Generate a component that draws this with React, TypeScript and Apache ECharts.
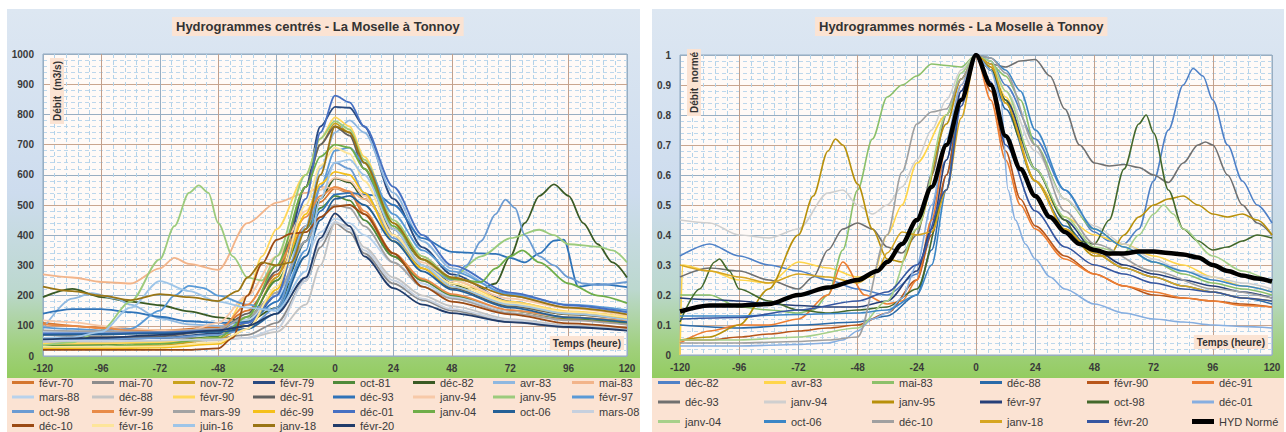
import React, { useEffect, useRef } from "react";
import * as echarts from "echarts";

// ---------- axis settings ----------
const HOUR_MIN = -120;
const HOUR_MAX = 120;
const HOUR_STEP = 24;
const Q_MAX = 1000;
const Q_STEP = 100;
const N_MAX = 1;
const N_STEP = 0.1;

const TITLE_LEFT = "Hydrogrammes centrés - La Moselle à Tonnoy";
const TITLE_RIGHT = "Hydrogrammes normés - La Moselle à Tonnoy";
const YNAME_LEFT = "Débit  (m3/s)";
const YNAME_RIGHT = "Débit  normé";
const XNAME = "Temps (heure)";

// ---------- left chart: centred hydrographs (hour, m3/s) ----------
const L_FEVR70 = [[-120,110],[-96,95],[-72,85],[-48,95],[-36,150],[-24,270],[-12,430],[-6,510],[0,555],[6,540],[12,470],[24,330],[36,250],[48,200],[72,150],[96,122],[120,105]];
const L_MAI70 = [[-120,70],[-96,65],[-72,60],[-48,60],[-36,70],[-24,110],[-12,250],[-6,360],[0,440],[6,410],[12,340],[24,240],[36,185],[48,150],[72,112],[96,95],[120,86]];
const L_NOV72 = [[-120,30],[-96,30],[-72,35],[-48,55],[-36,110],[-24,260],[-12,560],[-6,700],[0,770],[6,740],[12,640],[24,420],[36,300],[48,230],[72,165],[96,138],[120,122]];
const L_FEVR79 = [[-120,50],[-96,52],[-72,60],[-48,75],[-36,100],[-24,200],[-12,560],[-6,760],[0,825],[6,822],[12,760],[24,520],[36,360],[48,270],[72,180],[96,145],[120,125]];
const L_OCT81 = [[-120,35],[-96,38],[-72,45],[-48,65],[-36,120],[-24,250],[-12,420],[-6,490],[0,530],[6,515],[12,450],[24,330],[36,250],[48,200],[72,150],[96,125],[120,110]];
const L_DEC82 = [[-120,195],[-108,222],[-96,195],[-84,180],[-72,168],[-60,148],[-48,128],[-36,115],[-24,160],[-12,380],[-6,520],[0,588],[6,575],[12,520],[24,420],[36,320],[48,240],[54,225],[60,222],[66,240],[72,330],[78,440],[84,530],[90,568],[96,530],[102,440],[108,370],[114,310],[120,260]];
const L_AVR83 = [[-120,90],[-108,190],[-100,208],[-90,190],[-84,170],[-72,125],[-60,105],[-48,100],[-36,110],[-24,180],[-12,430],[-6,620],[0,740],[6,780],[12,740],[24,540],[36,380],[48,290],[72,200],[96,160],[120,145]];
const L_MAI83 = [[-120,270],[-108,260],[-96,245],[-84,240],[-72,290],[-66,325],[-60,305],[-48,285],[-36,440],[-24,508],[-12,540],[-6,560],[0,555],[6,545],[12,520],[24,420],[36,330],[48,260],[72,200],[96,160],[120,135]];
const L_MARS88 = [[-120,80],[-96,78],[-72,80],[-48,90],[-36,120],[-24,200],[-12,330],[-6,410],[0,455],[6,440],[12,400],[24,310],[36,240],[48,195],[72,150],[96,128],[120,115]];
const L_DEC88 = [[-120,45],[-96,45],[-72,48],[-48,52],[-36,60],[-24,80],[-12,170],[-6,300],[0,440],[6,430],[12,360],[24,260],[36,200],[48,165],[72,122],[96,102],[120,90]];
const L_FEVR90 = [[-120,40],[-96,42],[-72,45],[-48,60],[-36,200],[-30,330],[-24,420],[-12,600],[-6,720],[0,790],[6,760],[12,660],[24,440],[36,320],[48,250],[72,180],[96,148],[120,130]];
const L_DEC91 = [[-120,60],[-96,62],[-72,65],[-48,85],[-36,140],[-24,280],[-12,560],[-6,700],[0,760],[6,730],[12,620],[24,400],[36,290],[48,225],[72,165],[96,138],[120,122]];
const L_DEC93 = [[-120,140],[-108,155],[-96,155],[-84,145],[-72,130],[-60,115],[-48,110],[-36,112],[-24,180],[-12,380],[-6,480],[0,535],[6,540],[12,535],[18,530],[24,500],[36,390],[48,345],[60,340],[66,338],[72,325],[78,310],[84,340],[90,382],[94,385],[100,230],[108,238],[120,228]];
const L_JANV94 = [[-120,118],[-108,112],[-96,100],[-84,90],[-72,85],[-60,85],[-48,110],[-36,200],[-24,330],[-12,480],[-6,550],[0,590],[6,580],[12,530],[24,400],[36,310],[48,250],[72,190],[96,158],[120,135]];
const L_JANV95 = [[-120,35],[-108,45],[-96,85],[-84,180],[-72,320],[-66,430],[-60,540],[-56,565],[-52,540],[-48,440],[-42,330],[-36,260],[-30,250],[-24,330],[-12,600],[-6,720],[0,778],[6,750],[12,650],[24,450],[36,330],[48,258],[60,330],[72,390],[84,418],[90,400],[96,370],[108,362],[114,350],[120,310]];
const L_FEVR97 = [[-120,95],[-108,90],[-96,85],[-84,90],[-72,150],[-66,200],[-60,232],[-54,225],[-48,200],[-36,170],[-24,150],[-12,350],[-6,560],[0,680],[6,690],[12,640],[24,470],[36,350],[48,280],[72,205],[96,170],[120,152]];
const L_OCT98 = [[-120,55],[-96,55],[-72,60],[-48,70],[-36,90],[-24,160],[-12,420],[-6,560],[0,640],[6,620],[12,540],[24,390],[36,300],[48,252],[54,300],[60,380],[66,470],[70,518],[74,490],[78,400],[84,330],[90,300],[96,260],[102,240],[108,235],[120,245]];
const L_FEVR99 = [[-120,105],[-108,100],[-96,92],[-84,85],[-72,80],[-48,85],[-36,170],[-24,300],[-12,460],[-6,530],[0,560],[6,545],[12,480],[24,340],[36,255],[48,205],[72,152],[96,128],[120,116]];
const L_MARS99 = [[-120,85],[-96,82],[-72,80],[-48,90],[-36,130],[-24,210],[-12,380],[-6,460],[0,500],[6,490],[12,430],[24,310],[36,230],[48,190],[72,142],[96,118],[120,104]];
const L_DEC99 = [[-120,25],[-96,25],[-72,28],[-48,40],[-36,90],[-24,220],[-12,470],[-6,570],[0,610],[6,600],[12,540],[24,380],[36,290],[48,230],[72,170],[96,140],[120,125]];
const L_DEC01 = [[-120,75],[-96,75],[-72,78],[-48,85],[-36,110],[-24,200],[-12,520],[-6,740],[0,862],[6,840],[12,760],[24,560],[36,400],[48,300],[72,210],[96,168],[120,145]];
const L_JANV04 = [[-120,30],[-96,32],[-72,40],[-48,60],[-36,130],[-24,300],[-12,560],[-6,660],[0,700],[6,690],[12,620],[24,430],[36,320],[48,255],[60,245],[66,290],[72,330],[77,350],[84,310],[96,240],[108,200],[120,175]];
const L_OCT06 = [[-120,70],[-96,72],[-72,75],[-48,80],[-36,90],[-24,140],[-12,330],[-6,450],[0,520],[6,530],[12,500],[24,380],[36,280],[48,220],[72,160],[96,128],[120,112]];
const L_MARS08 = [[-120,50],[-96,50],[-72,52],[-48,55],[-36,60],[-24,90],[-12,250],[-6,380],[0,445],[6,420],[12,350],[24,250],[36,190],[48,155],[72,118],[96,98],[120,86]];
const L_DEC10 = [[-120,20],[-96,20],[-72,20],[-60,20],[-48,25],[-42,60],[-36,200],[-30,305],[-24,385],[-18,405],[-12,410],[-6,460],[0,495],[6,500],[12,470],[24,340],[36,230],[48,180],[72,138],[96,108],[120,93]];
const L_FEVR16 = [[-120,30],[-96,30],[-72,32],[-48,45],[-36,90],[-24,230],[-12,500],[-6,630],[0,690],[6,670],[12,580],[24,400],[36,300],[48,240],[72,175],[96,145],[120,128]];
const L_JUIN16 = [[-120,60],[-108,62],[-96,80],[-84,160],[-72,248],[-60,215],[-48,180],[-36,160],[-24,150],[-12,280],[-6,520],[0,640],[6,650],[12,600],[24,420],[36,300],[48,230],[72,170],[96,140],[120,120]];
const L_JANV18 = [[-120,230],[-108,215],[-96,200],[-84,185],[-72,205],[-60,195],[-48,182],[-40,215],[-36,260],[-30,310],[-24,300],[-18,310],[-12,420],[-6,600],[0,760],[6,740],[12,640],[24,440],[36,320],[48,260],[72,200],[96,160],[120,138]];
const L_FEVR20 = [[-120,55],[-96,60],[-72,70],[-48,85],[-36,100],[-24,140],[-12,260],[-6,390],[0,472],[6,430],[12,330],[24,225],[36,170],[48,142],[72,112],[96,96],[120,84]];

const LEFT_NAMES = ["févr-70","mai-70","nov-72","févr-79","oct-81","déc-82","avr-83","mai-83","mars-88","déc-88","févr-90","déc-91","déc-93","janv-94","janv-95","févr-97","oct-98","févr-99","mars-99","déc-99","déc-01","janv-04","oct-06","mars-08","déc-10","févr-16","juin-16","janv-18","févr-20"];
const LEFT_DATA = [L_FEVR70,L_MAI70,L_NOV72,L_FEVR79,L_OCT81,L_DEC82,L_AVR83,L_MAI83,L_MARS88,L_DEC88,L_FEVR90,L_DEC91,L_DEC93,L_JANV94,L_JANV95,L_FEVR97,L_OCT98,L_FEVR99,L_MARS99,L_DEC99,L_DEC01,L_JANV04,L_OCT06,L_MARS08,L_DEC10,L_FEVR16,L_JUIN16,L_JANV18,L_FEVR20];
const LEFT_COLORS = ["#d4762f","#8c8c8c","#c8a21d","#2a4a80","#4f8a3a","#3a5a24","#8fb8e0","#f2b48a","#b8d2ec","#c4c4c4","#ffd75a","#606060","#2f73b8","#f7c9a8","#9ccb7c","#5a9ad6","#6b9bd2","#e88b48","#a3a3a3","#f5c01a","#4670c2","#6fad48","#246096","#c6d0de","#9b4a14","#fde59a","#9ec5e8","#9a7514","#213c6a"];

// ---------- right chart: normalised hydrographs ----------
const R_DEC82 = [[-120,0.33],[-108,0.37],[-96,0.33],[-84,0.3],[-72,0.28],[-60,0.25],[-48,0.22],[-36,0.2],[-24,0.27],[-12,0.65],[-6,0.88],[0,1],[6,0.98],[12,0.9],[24,0.72],[36,0.55],[48,0.41],[54,0.38],[60,0.37],[66,0.42],[72,0.58],[78,0.75],[84,0.9],[88,0.955],[92,0.93],[96,0.85],[102,0.7],[108,0.58],[114,0.5],[120,0.44]];
const R_AVR83 = [[-120,0],[-119,0.3],[-108,0.28],[-96,0.25],[-84,0.24],[-72,0.31],[-60,0.29],[-48,0.26],[-42,0.26],[-36,0.4],[-30,0.5],[-24,0.64],[-12,0.8],[-6,0.92],[0,1],[6,0.96],[12,0.86],[24,0.58],[36,0.46],[48,0.4],[60,0.37],[72,0.33],[84,0.3],[96,0.26],[108,0.23],[120,0.21]];
const R_MAI83 = [[-120,0.2],[-108,0.2],[-96,0.16],[-84,0.15],[-72,0.14],[-66,0.15],[-60,0.2],[-54,0.35],[-48,0.55],[-42,0.72],[-36,0.86],[-30,0.9],[-24,0.93],[-18,0.97],[-12,0.965],[-6,0.96],[0,1],[6,0.97],[12,0.93],[18,0.85],[24,0.7],[36,0.52],[48,0.42],[60,0.36],[72,0.31],[84,0.27],[96,0.24],[108,0.22],[120,0.2]];
const R_DEC88 = [[-120,0.1],[-96,0.09],[-72,0.1],[-48,0.11],[-36,0.13],[-24,0.2],[-18,0.35],[-12,0.6],[-6,0.85],[0,1],[6,0.95],[12,0.82],[24,0.58],[36,0.43],[48,0.34],[60,0.29],[72,0.26],[84,0.23],[96,0.21],[108,0.19],[120,0.17]];
const R_FEVR90 = [[-120,0.05],[-108,0.05],[-96,0.06],[-84,0.07],[-72,0.08],[-60,0.09],[-48,0.1],[-36,0.14],[-24,0.25],[-18,0.4],[-12,0.6],[-6,0.85],[0,1],[6,0.88],[12,0.68],[18,0.52],[24,0.43],[36,0.33],[48,0.27],[60,0.23],[72,0.2],[84,0.19],[96,0.18],[108,0.17],[120,0.16]];
const R_DEC91 = [[-120,0.04],[-108,0.08],[-96,0.1],[-84,0.1],[-72,0.12],[-60,0.2],[-54,0.31],[-45,0.2],[-36,0.17],[-30,0.18],[-24,0.25],[-18,0.45],[-12,0.7],[-6,0.9],[0,1],[6,0.85],[12,0.65],[18,0.5],[24,0.42],[36,0.32],[48,0.27],[60,0.23],[72,0.21],[84,0.19],[96,0.18],[108,0.165],[120,0.16]];
const R_DEC93 = [[-120,0.26],[-108,0.29],[-96,0.28],[-84,0.25],[-72,0.22],[-66,0.26],[-60,0.35],[-54,0.42],[-48,0.44],[-42,0.42],[-36,0.36],[-30,0.34],[-24,0.4],[-18,0.6],[-12,0.8],[-6,0.92],[0,1],[6,0.97],[12,0.96],[18,0.98],[24,0.985],[30,0.93],[36,0.82],[42,0.7],[48,0.64],[54,0.63],[60,0.635],[66,0.625],[72,0.6],[78,0.575],[84,0.64],[90,0.7],[93,0.71],[96,0.7],[102,0.6],[108,0.5],[114,0.44],[120,0.4]];
const R_JANV94 = [[-120,0.45],[-108,0.44],[-96,0.4],[-84,0.39],[-72,0.42],[-60,0.54],[-54,0.55],[-48,0.5],[-42,0.47],[-36,0.5],[-30,0.56],[-24,0.65],[-18,0.75],[-12,0.85],[-6,0.95],[0,1],[6,0.96],[12,0.88],[24,0.68],[36,0.52],[48,0.43],[60,0.37],[72,0.32],[84,0.28],[96,0.26],[108,0.24],[120,0.22]];
const R_JANV95 = [[-120,0.05],[-108,0.06],[-96,0.1],[-84,0.22],[-72,0.4],[-66,0.53],[-60,0.68],[-57,0.72],[-54,0.7],[-48,0.57],[-42,0.42],[-36,0.32],[-30,0.31],[-24,0.42],[-12,0.77],[-6,0.92],[0,1],[6,0.96],[12,0.84],[24,0.58],[36,0.42],[48,0.33],[54,0.33],[60,0.4],[66,0.46],[72,0.5],[78,0.52],[84,0.53],[90,0.5],[96,0.47],[102,0.46],[108,0.47],[114,0.45],[120,0.4]];
const R_FEVR97 = [[-120,0.19],[-108,0.185],[-96,0.18],[-84,0.17],[-72,0.165],[-60,0.16],[-48,0.16],[-36,0.18],[-24,0.28],[-18,0.42],[-12,0.65],[-6,0.88],[0,1],[6,0.95],[12,0.85],[24,0.62],[36,0.45],[48,0.35],[60,0.3],[72,0.27],[84,0.25],[96,0.23],[108,0.21],[120,0.19]];
const R_OCT98 = [[-120,0.11],[-112,0.22],[-106,0.31],[-104,0.32],[-100,0.28],[-96,0.22],[-84,0.18],[-72,0.15],[-60,0.14],[-48,0.15],[-36,0.16],[-24,0.22],[-12,0.55],[-6,0.85],[0,1],[6,0.95],[12,0.85],[18,0.72],[24,0.62],[36,0.45],[42,0.38],[48,0.37],[54,0.45],[60,0.62],[66,0.77],[69,0.8],[72,0.74],[78,0.55],[84,0.42],[90,0.38],[96,0.35],[102,0.36],[108,0.38],[114,0.4],[120,0.39]];
const R_DEC01 = [[-120,0.03],[-96,0.03],[-72,0.035],[-60,0.04],[-54,0.05],[-48,0.08],[-42,0.12],[-36,0.14],[-30,0.19],[-24,0.3],[-18,0.5],[-12,0.72],[-6,0.9],[0,1],[6,0.95],[10,0.85],[13,0.55],[16,0.45],[20,0.37],[24,0.32],[30,0.26],[36,0.22],[48,0.17],[60,0.14],[72,0.12],[84,0.11],[96,0.1],[108,0.095],[120,0.09]];
const R_JANV04 = [[-120,0.05],[-96,0.05],[-72,0.06],[-48,0.09],[-36,0.18],[-24,0.42],[-12,0.8],[-6,0.94],[0,1],[6,0.98],[12,0.88],[24,0.62],[36,0.46],[48,0.36],[60,0.34],[66,0.4],[72,0.47],[76,0.5],[80,0.47],[84,0.42],[96,0.33],[108,0.28],[120,0.24]];
const R_OCT06 = [[-120,0.13],[-96,0.13],[-72,0.135],[-48,0.14],[-36,0.15],[-24,0.2],[-18,0.3],[-12,0.55],[-6,0.85],[0,1],[6,0.99],[12,0.95],[18,0.88],[24,0.75],[36,0.55],[48,0.42],[60,0.36],[72,0.31],[84,0.28],[96,0.25],[108,0.23],[120,0.21]];
const R_DEC10 = [[-120,0.04],[-96,0.04],[-72,0.045],[-60,0.05],[-48,0.06],[-36,0.4],[-30,0.61],[-24,0.77],[-18,0.81],[-12,0.82],[-6,0.92],[0,1],[6,0.99],[12,0.94],[24,0.7],[36,0.48],[48,0.37],[72,0.28],[96,0.22],[120,0.19]];
const R_JANV18 = [[-120,0.3],[-108,0.28],[-96,0.26],[-84,0.24],[-72,0.27],[-60,0.26],[-48,0.24],[-40,0.28],[-36,0.34],[-30,0.41],[-24,0.4],[-18,0.41],[-12,0.55],[-6,0.79],[0,1],[6,0.97],[12,0.84],[24,0.58],[36,0.42],[48,0.34],[60,0.29],[72,0.26],[84,0.23],[96,0.21],[108,0.19],[120,0.18]];
const R_FEVR20 = [[-120,0.12],[-96,0.125],[-72,0.15],[-48,0.18],[-36,0.21],[-24,0.3],[-12,0.55],[-6,0.83],[0,1],[6,0.91],[12,0.7],[24,0.48],[36,0.36],[48,0.3],[60,0.27],[72,0.24],[84,0.22],[96,0.21],[108,0.19],[120,0.18]];
const R_HYD = [[-120,0.145],[-108,0.165],[-96,0.165],[-84,0.17],[-72,0.2],[-60,0.225],[-48,0.25],[-40,0.28],[-36,0.31],[-30,0.37],[-24,0.45],[-18,0.56],[-12,0.7],[-6,0.85],[0,1],[6,0.9],[12,0.73],[18,0.62],[24,0.53],[30,0.46],[36,0.41],[42,0.37],[48,0.35],[54,0.338],[60,0.338],[66,0.345],[72,0.345],[78,0.34],[84,0.335],[90,0.325],[96,0.3],[102,0.28],[108,0.265],[114,0.255],[120,0.245]];

const RIGHT_NAMES = ["déc-82","avr-83","mai-83","déc-88","févr-90","déc-91","déc-93","janv-94","janv-95","févr-97","oct-98","déc-01","janv-04","oct-06","déc-10","janv-18","févr-20","HYD Normé"];
const RIGHT_DATA = [R_DEC82,R_AVR83,R_MAI83,R_DEC88,R_FEVR90,R_DEC91,R_DEC93,R_JANV94,R_JANV95,R_FEVR97,R_OCT98,R_DEC01,R_JANV04,R_OCT06,R_DEC10,R_JANV18,R_FEVR20,R_HYD];
const RIGHT_COLORS = ["#4f81c7","#ffd54a","#8cc06a","#2a6aa8","#b8561a","#ed7d31","#707070","#cfcfcf","#b8900a","#263f78","#43682b","#86aee0","#a6d08a","#3b86c6","#a0a0a0","#d6a520","#3656a0","#000000"];

// ---------- layout ----------
const W = 1286;
const H = 432;
const LEFT_GRID = { left: 43, top: 54, width: 584, height: 302 };
const RIGHT_GRID = { left: 680, top: 55, width: 592, height: 300 };
const LEFT_LEG_COLS = [12, 92, 173, 253, 333, 413, 493, 572];
const LEFT_LEG_ROWS = [384, 398.5, 413, 427];
const RIGHT_LEG_COLS = [658, 764, 872, 980, 1087, 1192];
const RIGHT_LEG_ROWS = [384, 403.5, 423];

const FONT = "Liberation Sans";
const PEACH = "#fbe3d3";
const SEP = "§"; // separates display name from chart id in internal series names

export default function App() {
  const ref = useRef<HTMLDivElement>(null);

  useEffect(() => {
    if (!ref.current) return;
    const chart = echarts.init(ref.current, undefined, { renderer: "svg" });

    const xAxisBase = (gridIndex: number) => ({
      type: "value",
      gridIndex,
      min: HOUR_MIN,
      max: HOUR_MAX,
      interval: HOUR_STEP,
      axisLine: { show: false },
      axisTick: { show: false },
      axisLabel: { fontSize: 10, fontWeight: "bold", color: "#3a3a3a", margin: 7, fontFamily: FONT },
      splitLine: { show: true, lineStyle: { color: ["#98aec2", "#c2a08c"], width: 1 } },
      minorTick: { show: false, splitNumber: 5 },
      minorSplitLine: { show: true, lineStyle: { color: "#b3d3ea", width: 1, type: [4, 3] } },
    });
    const yAxisBase = (gridIndex: number, max: number, step: number) => ({
      type: "value",
      gridIndex,
      min: 0,
      max,
      interval: step,
      axisLine: { show: false },
      axisTick: { show: false },
      axisLabel: {
        fontSize: 10, fontWeight: "bold", color: "#3a3a3a", margin: 9, fontFamily: FONT,
        formatter: (v: number) => String(Math.round(v * 10) / 10),
      },
      splitLine: { show: true, lineStyle: { color: ["#98aec2", "#c9a58e"], width: 1 } },
      minorTick: { show: false, splitNumber: 5 },
      minorSplitLine: { show: true, lineStyle: { color: "#bcd7ec", width: 1, type: [4, 3] } },
    });

    const mkSeries = (id: string, data: number[][], color: string, idx: number, width: number, z: number) => ({
      name: id,
      type: "line",
      xAxisIndex: idx,
      yAxisIndex: idx,
      data,
      showSymbol: false,
      symbol: "none",
      smooth: 0.3,
      smoothMonotone: "x",
      lineStyle: { color, width },
      itemStyle: { color },
      emphasis: { disabled: true },
      silent: true,
      z,
    });

    const series: any[] = [];
    LEFT_NAMES.forEach((n, i) => series.push(mkSeries(n + SEP + "L", LEFT_DATA[i], LEFT_COLORS[i], 0, 1.8, 2)));
    RIGHT_NAMES.forEach((n, i) => {
      const hyd = n === "HYD Normé";
      series.push(mkSeries(n + SEP + "R", RIGHT_DATA[i], RIGHT_COLORS[i], 1, hyd ? 4.5 : 1.6, hyd ? 5 : 2));
    });

    const legendItem = (id: string, left: number, rowCenter: number, thick: boolean) => ({
      data: [id],
      left,
      top: rowCenter - 7,
      padding: 0,
      itemWidth: 22,
      itemHeight: thick ? 5 : 3,
      icon: "rect",
      selectedMode: false,
      formatter: (nm: string) => nm.split(SEP)[0],
      textStyle: { fontSize: 11, color: "#3a3a3a", fontFamily: FONT },
    });
    const legends: any[] = [];
    LEFT_NAMES.forEach((n, i) =>
      legends.push(legendItem(n + SEP + "L", LEFT_LEG_COLS[i % 8], LEFT_LEG_ROWS[Math.floor(i / 8)], false))
    );
    RIGHT_NAMES.forEach((n, i) =>
      legends.push(legendItem(n + SEP + "R", RIGHT_LEG_COLS[i % 6], RIGHT_LEG_ROWS[Math.floor(i / 6)], n === "HYD Normé"))
    );

    const panelFill = new echarts.graphic.LinearGradient(0, 0, 0, 1, [
      { offset: 0, color: "#dde7f2" },
      { offset: 0.5, color: "#cddcee" },
      { offset: 0.76, color: "#bcd8cf" },
      { offset: 0.92, color: "#a0d07c" },
      { offset: 1, color: "#93cc60" },
    ]);

    const option: any = {
      animation: false,
      backgroundColor: "#ffffff",
      title: [
        {
          text: TITLE_LEFT,
          left: 172,
          top: 17,
          padding: [3, 4],
          backgroundColor: PEACH,
          textStyle: { fontSize: 13, fontWeight: "bold", color: "#333333", fontFamily: FONT },
        },
        {
          text: TITLE_RIGHT,
          left: 815,
          top: 17,
          padding: [3, 4],
          backgroundColor: PEACH,
          textStyle: { fontSize: 13, fontWeight: "bold", color: "#333333", fontFamily: FONT },
        },
      ],
      legend: legends,
      grid: [
        { ...LEFT_GRID, show: true, backgroundColor: "#fffaf7", borderColor: "#8ea8c0", borderWidth: 1 },
        { ...RIGHT_GRID, show: true, backgroundColor: "#fffaf7", borderColor: "#8ea8c0", borderWidth: 1 },
      ],
      xAxis: [xAxisBase(0), xAxisBase(1)],
      yAxis: [yAxisBase(0, Q_MAX, Q_STEP), yAxisBase(1, N_MAX, N_STEP)],
      graphic: [
        { type: "rect", z: -10, silent: true, shape: { x: 7, y: 9, width: 633, height: 369 }, style: { fill: panelFill } },
        { type: "rect", z: -10, silent: true, shape: { x: 652, y: 9, width: 632, height: 369 }, style: { fill: panelFill } },
        { type: "rect", z: -10, silent: true, shape: { x: 7, y: 378, width: 633, height: 54 }, style: { fill: PEACH } },
        { type: "rect", z: -10, silent: true, shape: { x: 652, y: 378, width: 632, height: 54 }, style: { fill: PEACH } },
        {
          type: "text", z: 100, silent: true, x: 50, y: 124, rotation: Math.PI / 2,
          style: { text: YNAME_LEFT, font: `bold 10px ${FONT}`, fill: "#333333", backgroundColor: PEACH, padding: [2, 3], align: "left", verticalAlign: "top" },
        },
        {
          type: "text", z: 100, silent: true, x: 687, y: 116, rotation: Math.PI / 2,
          style: { text: YNAME_RIGHT, font: `bold 10px ${FONT}`, fill: "#333333", backgroundColor: PEACH, padding: [2, 3], align: "left", verticalAlign: "top" },
        },
        {
          type: "text", z: 100, silent: true, x: 624, y: 350,
          style: { text: XNAME, font: `bold 10px ${FONT}`, fill: "#333333", backgroundColor: PEACH, padding: [2, 3], align: "right", verticalAlign: "bottom" },
        },
        {
          type: "text", z: 100, silent: true, x: 1268, y: 349,
          style: { text: XNAME, font: `bold 10px ${FONT}`, fill: "#333333", backgroundColor: PEACH, padding: [2, 3], align: "right", verticalAlign: "bottom" },
        },
      ],
      series,
    };

    chart.setOption(option);
    return () => chart.dispose();
  }, []);

  return <div ref={ref} style={{ position: "absolute", left: 0, top: 0, width: W, height: H }} />;
}
